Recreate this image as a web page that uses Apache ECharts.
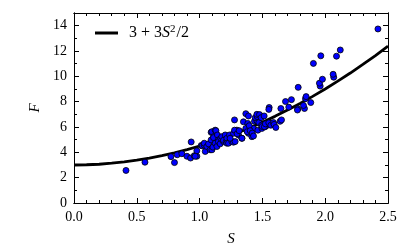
<!DOCTYPE html>
<html><head><meta charset="utf-8">
<script src="https://cdn.jsdelivr.net/npm/echarts@6/dist/echarts.min.js"></script>
<style>html,body{margin:0;padding:0;background:#fff}#c{width:408px;height:252px}</style>
</head><body><div id="c"></div>
<script>
// Scatter samples (S, F)
const sampleS = [0.414,0.565,0.772,0.800,0.822,0.859,0.899,0.928,0.933,0.957,0.978,0.978,0.965,
1.013,1.021,1.037,1.037,1.045,1.058,1.071,1.084,1.092,1.092,1.098,1.098,1.106,1.111,1.111,1.124,1.124,1.130,1.138,1.142,1.150,1.150,1.164,1.169,1.177,1.190,1.190,1.204,1.212,1.217,1.217,1.230,1.238,1.257,1.270,
1.243,1.283,1.310,1.297,1.270,1.337,1.376,1.389,1.416,1.429,1.464,1.496,1.522,1.540,1.562,
1.278,1.299,1.315,1.337,1.349,1.368,1.379,1.384,1.395,1.403,1.419,1.429,1.437,1.456,1.472,1.493,1.498,1.516,1.524,1.551,1.567,1.588,1.593,1.607,1.641,1.652,
1.278,1.368,1.389,1.443,1.459,1.456,1.477,1.490,1.514,
1.554,1.551,1.647,1.710,1.731,1.684,1.782,1.779,1.835,1.827,1.885,1.843,1.848,1.785,1.960,1.954,1.978,2.068,2.063,1.906,1.965,2.090,2.120,2.420];
const sampleF = [2.57,3.22,3.66,3.19,3.81,3.89,3.69,3.55,4.82,3.73,3.69,4.12,3.69,
4.54,4.51,4.56,4.72,4.07,4.46,4.67,4.20,4.98,5.58,4.20,5.63,4.41,5.24,5.16,4.72,5.75,5.71,4.46,5.37,4.98,4.85,4.67,5.11,5.24,4.85,4.95,5.37,4.85,5.11,4.72,4.72,5.37,4.85,4.80,
5.11,4.85,5.37,5.75,5.50,5.11,5.75,5.50,5.24,5.89,5.75,5.89,6.02,6.14,6.28,
5.75,5.47,5.71,5.11,6.41,5.89,5.63,6.28,6.10,5.71,5.52,5.29,6.45,6.49,6.35,6.14,6.04,6.02,6.25,6.33,6.14,6.35,6.20,5.96,6.45,6.56,
6.56,7.05,6.87,6.74,6.82,7.00,6.98,6.74,6.87,
7.54,7.39,7.46,7.57,8.16,8.01,7.44,7.34,7.46,7.70,7.93,8.24,8.40,9.13,9.23,9.46,9.77,9.93,10.16,11.02,11.62,11.59,12.08,13.74];
// Curve points
const curveS = [0,0.1,0.2,0.3,0.4,0.5,0.6,0.7,0.8,0.9,1.0,1.1,1.2,1.3,1.4,1.5,1.6,1.7,1.8,1.9,2.0,2.1,2.2,2.3,2.4,2.5];
const curveF = [3.00,3.02,3.06,3.14,3.24,3.38,3.54,3.74,3.96,4.22,4.50,4.82,5.16,5.54,5.94,6.38,6.84,7.34,7.86,8.42,9.00,9.62,10.26,10.94,11.64,12.38];
const xTicks = [0.0,0.5,1.0,1.5,2.0,2.5];
const yTicks = [0,2,4,6,8,10,12,14];
const curveName = '3 + 3S²/2';

const serif = 'Liberation Serif';
const scatterData = sampleS.map((s,i)=>[s,sampleF[i]]);
const curveData = curveS.map((s,i)=>[s,curveF[i]]);

function xAx(pos, interval, len, labels){
  return {type:'value', position:pos, min:0, max:2.5, interval:interval,
    axisLine:{show:true, onZero:false, lineStyle:{color:'#000', width:1}},
    axisTick:{show:true, inside:true, length:len, lineStyle:{color:'#000', width:1}},
    splitLine:{show:false},
    axisLabel:{show:labels, color:'#000', fontFamily:serif, fontSize:14, margin:7,
      formatter:v=>v.toFixed(1)},
    name: labels ? 'S' : '', nameLocation:'middle', nameGap:29,
    nameTextStyle:{fontFamily:serif, fontStyle:'italic', fontSize:15, color:'#000'}};
}
function yAx(pos, interval, len, labels){
  return {type:'value', position:pos, min:0, max:15, interval:interval,
    axisLine:{show:true, onZero:false, lineStyle:{color:'#000', width:1}},
    axisTick:{show:true, inside:true, length:len, lineStyle:{color:'#000', width:1}},
    splitLine:{show:false},
    axisLabel:{show:labels, showMaxLabel:false, color:'#000', fontFamily:serif, fontSize:14, margin:7,
      formatter:v=> (v===15?'':String(v))},
    name: labels ? 'F' : '', nameLocation:'middle', nameGap:31, nameRotate:90,
    nameTextStyle:{fontFamily:serif, fontStyle:'italic', fontSize:15, color:'#000'}};
}

const chart = echarts.init(document.getElementById('c'), null, {renderer:'canvas'});
chart.setOption({
  animation:false,
  backgroundColor:'#fff',
  grid:{left:74, right:20, top:13, bottom:46},
  xAxis:[xAx('bottom',0.5,5,true), xAx('bottom',0.1,3,false), xAx('top',0.5,5,false), xAx('top',0.1,3,false)],
  yAxis:[yAx('left',2,5,true), yAx('left',1,3,false), yAx('right',2,5,false), yAx('right',1,3,false)],
  legend:{left:90, top:19, itemWidth:23, itemHeight:3, icon:'rect',
    data:[{name:curveName, itemStyle:{color:'#000'}}],
    formatter:()=> '{n|3 + 3}{i|S}{s|2}{n|/2}',
    textStyle:{padding:[0,0,0,6], rich:{
      n:{fontFamily:serif, fontSize:16, color:'#000'},
      i:{fontFamily:serif, fontSize:16, fontStyle:'italic', color:'#000'},
      s:{fontFamily:serif, fontSize:11, color:'#000', verticalAlign:'top', padding:[0,1,7,0]}
    }}},
  series:[
    {name:curveName, type:'line', data:curveData, xAxisIndex:0, yAxisIndex:0, showSymbol:false, symbol:'none',
      lineStyle:{color:'#000', width:2.8}, itemStyle:{color:'#000'}, z:1},
    {name:'data', type:'scatter', data:scatterData, xAxisIndex:0, yAxisIndex:0, symbolSize:6,
      itemStyle:{color:'#0000ff', borderColor:'#000', borderWidth:0.8, opacity:1}, z:3}
  ]
});
</script></body></html>
